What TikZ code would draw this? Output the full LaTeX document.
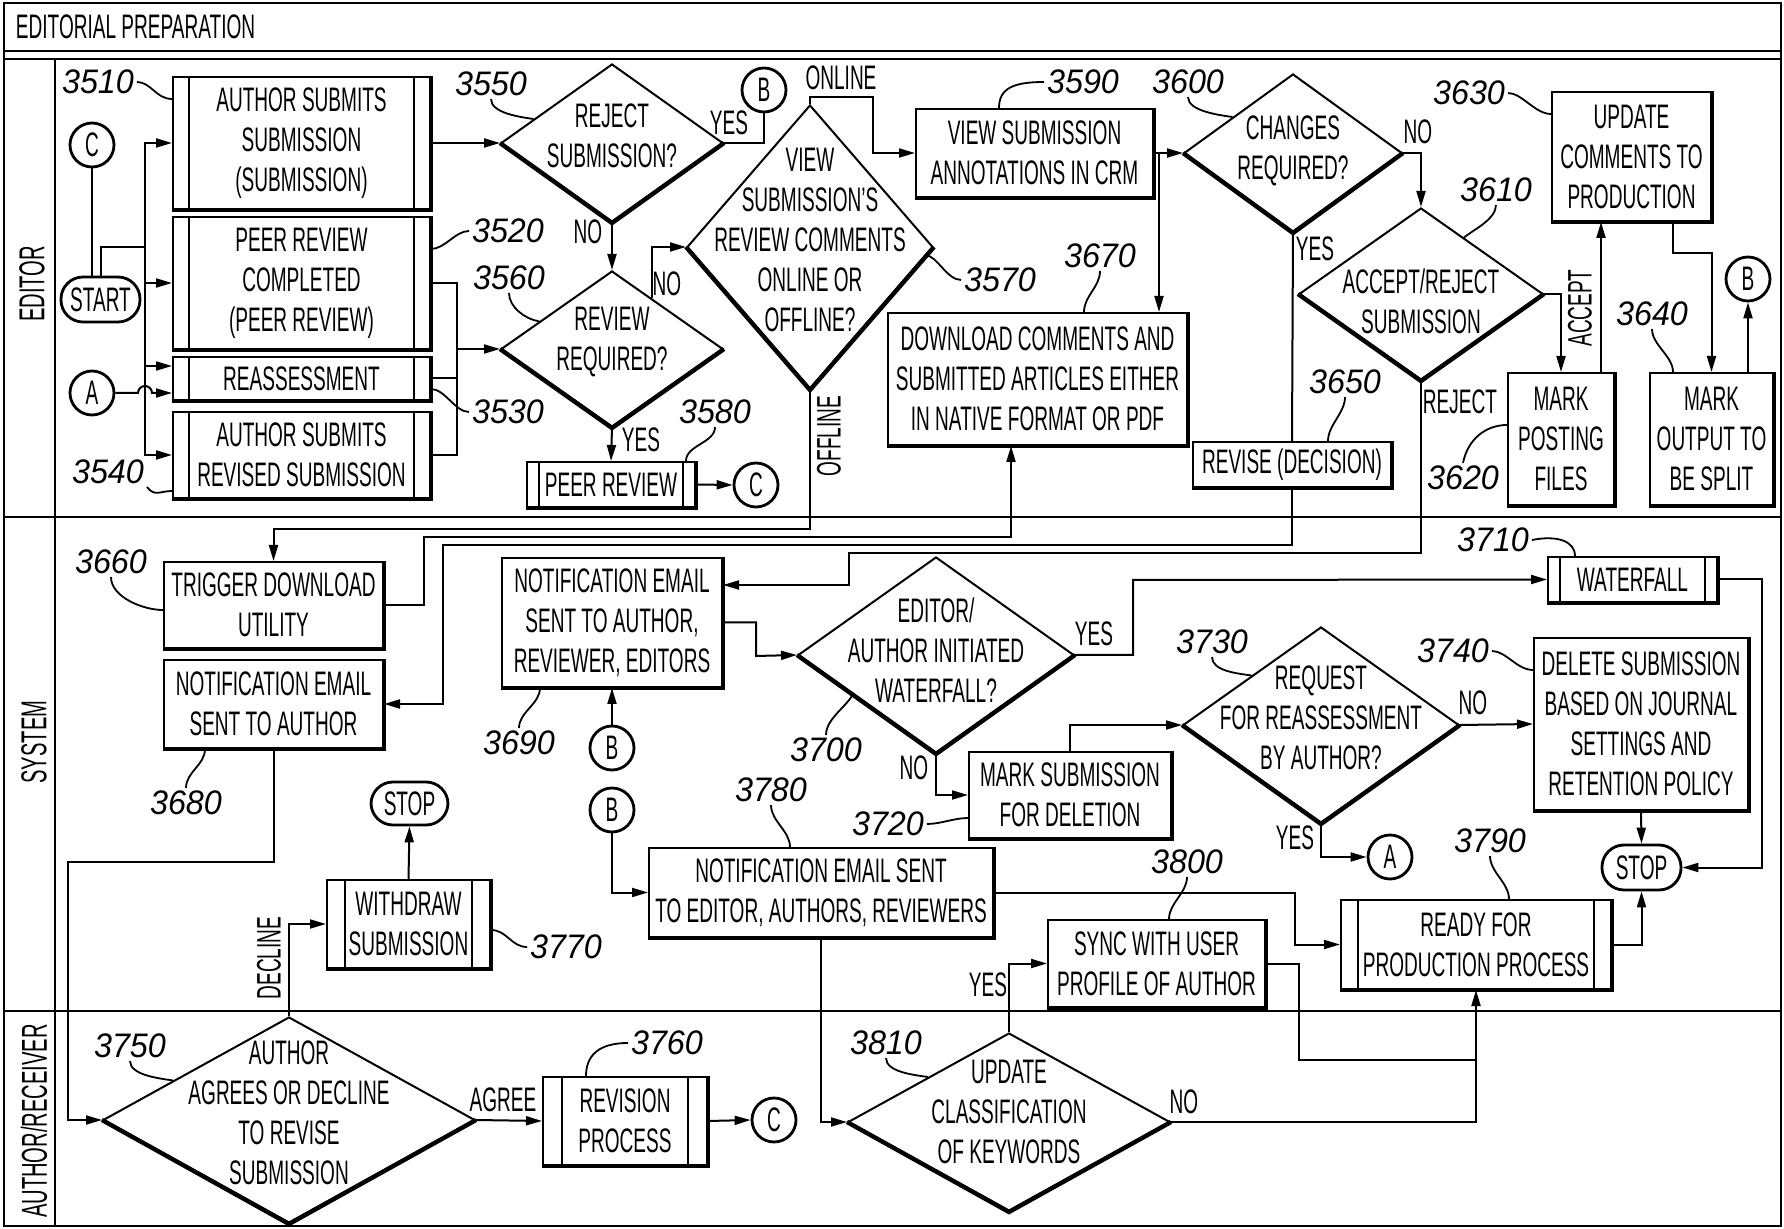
\documentclass[tikz,border=0pt]{standalone}
\usepackage{fontspec}
\setmainfont{Liberation Sans}[FakeStretch=0.56]
\newfontfamily\numfont{Liberation Sans}[FakeStretch=0.95]
\usetikzlibrary{arrows.meta,shapes.geometric,calc}
\newcommand\bxf{\fontsize{17}{20}\selectfont}
\newcommand\lnf{\fontsize{18}{20}\selectfont}
\newcommand\nmf{\numfont\itshape\fontsize{17}{20}\selectfont}
\begin{document}
\begin{tikzpicture}[x=0.5pt,y=-0.5pt,line width=1pt,
  >={Triangle[length=8pt,width=4.5pt]},
  box/.style={draw,rectangle,inner sep=0pt,align=center,font=\bxf},
  dia/.style={draw,diamond,inner sep=0pt},
  dtxt/.style={align=center,font=\bxf,inner sep=0pt,yshift=3.5pt},
  term/.style={draw,rectangle,rounded corners=11pt,inner sep=0pt,font=\bxf,line width=1.4pt},
  conn/.style={draw,circle,inner sep=0pt,minimum size=22pt,font=\bxf,line width=1.4pt},
  num/.style={font=\nmf,inner sep=1pt},
  lbl/.style={font=\bxf,inner sep=0pt},
  lane/.style={font=\lnf,inner sep=0pt,rotate=90},
  lead/.style={line width=0.9pt},
  shd/.style={line width=2.2pt}]
\useasboundingbox (0,0) rectangle (1784,1229);
% frame
\draw (4,3) rectangle (1781,1226);
\draw (4,51) -- (1781,51);
\draw (4,59) -- (1781,59);
\draw (4,517) -- (1781,517);
\draw (4,1011) -- (1781,1011);
\draw (55,59) -- (55,1226);
\node[font=\bxf,anchor=west,inner sep=0pt] (title) at (15,27) {EDITORIAL PREPARATION};
\node[lane] (lnE) at (32,284) {EDITOR};
\node[lane] (lnS) at (34,742) {SYSTEM};
\node[lane] (lnA) at (34,1121) {AUTHOR/RECEIVER};

% boxes
\node[box,minimum width=128.5pt,minimum height=66pt] (b3510) at (301.5,143) {AUTHOR SUBMITS\\SUBMISSION\\(SUBMISSION)};
\node[box,minimum width=128.5pt,minimum height=66pt] (b3520) at (301.5,283) {PEER REVIEW\\COMPLETED\\(PEER REVIEW)};
\node[box,minimum width=128.5pt,minimum height=21.5pt] (b3530) at (301.5,378.5) {REASSESSMENT};
\node[box,minimum width=128.5pt,minimum height=43pt] (b3540) at (301.5,455) {AUTHOR SUBMITS\\REVISED SUBMISSION};
\node[box,minimum width=84pt,minimum height=22.5pt] (b3580) at (611,484.5) {PEER REVIEW};
\node[box,minimum width=118.5pt,minimum height=44pt] (b3590) at (1034.5,153) {VIEW SUBMISSION\\ANNOTATIONS IN CRM};
\node[box,minimum width=149.5pt,minimum height=66pt] (b3670) at (1037.5,379) {DOWNLOAD COMMENTS AND\\SUBMITTED ARTICLES EITHER\\IN NATIVE FORMAT OR PDF};
\node[box,minimum width=79.5pt,minimum height=64.5pt] (b3630) at (1631.5,156.5) {UPDATE\\COMMENTS TO\\PRODUCTION};
\node[box,minimum width=53pt,minimum height=66pt] (b3620) at (1561,439) {MARK\\POSTING\\FILES};
\node[box,minimum width=61.5pt,minimum height=66pt] (b3640) at (1711.5,439) {MARK\\OUTPUT TO\\BE SPLIT};
\node[box,minimum width=99pt,minimum height=22.5pt] (b3650) at (1292,464.5) {REVISE (DECISION)};
\node[box,minimum width=109.5pt,minimum height=43pt] (b3660) at (273.5,605) {TRIGGER DOWNLOAD\\UTILITY};
\node[box,minimum width=109.5pt,minimum height=44pt] (b3680) at (273.5,704) {NOTIFICATION EMAIL\\SENT TO AUTHOR};
\node[box,minimum width=110pt,minimum height=64.5pt] (b3690) at (612,622.5) {NOTIFICATION EMAIL\\SENT TO AUTHOR,\\REVIEWER, EDITORS};
\node[box,minimum width=84.5pt,minimum height=22.5pt] (b3710) at (1632.5,579.5) {WATERFALL};
\node[box,minimum width=101pt,minimum height=43pt] (b3720) at (1070,795) {MARK SUBMISSION\\FOR DELETION};
\node[box,minimum width=107pt,minimum height=86pt] (b3740) at (1641,724) {DELETE SUBMISSION\\BASED ON JOURNAL\\SETTINGS AND\\RETENTION POLICY};
\node[box,minimum width=81.5pt,minimum height=44pt] (b3770) at (408.5,924) {WITHDRAW\\SUBMISSION};
\node[box,minimum width=82pt,minimum height=44pt] (b3760) at (625,1121) {REVISION\\PROCESS};
\node[box,minimum width=172pt,minimum height=44.5pt] (b3780) at (821,892.5) {NOTIFICATION EMAIL SENT\\TO EDITOR, AUTHORS, REVIEWERS};
\node[box,minimum width=135pt,minimum height=44.5pt] (b3790) at (1476,944.5) {READY FOR\\PRODUCTION PROCESS};
\node[box,minimum width=108.5pt,minimum height=43.5pt] (b3800) at (1156.5,963.5) {SYNC WITH USER\\PROFILE OF AUTHOR};

% diamonds
\node[dia,minimum width=111pt,minimum height=79pt,label={[dtxt]center:{REJECT\\SUBMISSION?}}] (d3550) at (612,143) {};
\node[dia,minimum width=111pt,minimum height=78pt,label={[dtxt]center:{REVIEW\\REQUIRED?}}] (d3560) at (612,349) {};
\node[dia,minimum width=123pt,minimum height=142pt,label={[dtxt]center:{VIEW\\SUBMISSION'S\\REVIEW COMMENTS\\ONLINE OR\\OFFLINE?}}] (d3570) at (810,247) {};
\node[dia,minimum width=109pt,minimum height=79pt,label={[dtxt,yshift=-2.5pt]center:{CHANGES\\REQUIRED?}}] (d3600) at (1293,153) {};
\node[dia,minimum width=122pt,minimum height=86pt,label={[dtxt,yshift=-7pt]center:{ACCEPT/REJECT\\SUBMISSION}}] (d3610) at (1421,294) {};
\node[dia,minimum width=138pt,minimum height=98pt,label={[dtxt,yshift=-1pt]center:{EDITOR/\\AUTHOR INITIATED\\WATERFALL?}}] (d3700) at (936,655) {};
\node[dia,minimum width=138pt,minimum height=98pt,label={[dtxt]center:{REQUEST\\FOR REASSESSMENT\\BY AUTHOR?}}] (d3730) at (1321,725) {};
\node[dia,minimum width=186pt,minimum height=103pt,label={[dtxt]center:{AUTHOR\\AGREES OR DECLINE\\TO REVISE\\SUBMISSION}}] (d3750) at (289,1120) {};
\node[dia,minimum width=161pt,minimum height=89pt,label={[dtxt,yshift=1.5pt]center:{UPDATE\\CLASSIFICATION\\OF KEYWORDS}}] (d3810) at (1009,1122) {};

% terminals
\node[term,minimum width=39.5pt,minimum height=22.5pt] (tSTART) at (100.5,299.5) {START};
\node[term,minimum width=38.5pt,minimum height=21.5pt] (tSTOP1) at (409.5,803.5) {STOP};
\node[term,minimum width=39.5pt,minimum height=22.5pt] (tSTOP2) at (1641.5,867.5) {STOP};

% connectors
\node[conn] (cC1) at (92,145) {C};
\node[conn] (cA1) at (92,393) {A};
\node[conn] (cB1) at (764,90) {B};
\node[conn] (cC2) at (756,485) {C};
\node[conn] (cB2) at (1748,279) {B};
\node[conn] (cB3) at (612,748) {B};
\node[conn] (cB4) at (612,810) {B};
\node[conn] (cA2) at (1390,857) {A};
\node[conn] (cC3) at (774,1120) {C};

% shadows
\foreach \n in {b3510,b3520,b3530,b3540,b3580,b3590,b3670,b3630,b3620,b3640,b3650,b3660,b3680,b3690,b3710,b3720,b3740,b3770,b3760,b3780,b3790,b3800}
  \draw[shd] (\n.south west) -- (\n.south east) -- (\n.north east);
\foreach \n in {d3550,d3560,d3570,d3600,d3610,d3700,d3730,d3750,d3810}
  \draw[shd] (\n.west) -- (\n.south) -- (\n.east);
% predefined-process strips
\foreach \n/\s in {b3510/8.5pt,b3520/8.5pt,b3530/8.5pt,b3540/8.5pt,b3580/6.5pt,b3710/6.5pt,b3770/9.5pt,b3760/10pt,b3790/9pt}{
  \draw ([xshift=\s]\n.north west) -- ([xshift=\s]\n.south west);
  \draw ([xshift=-\s]\n.north east) -- ([xshift=-\s]\n.south east);
}

% edge labels
\node[lbl] (y3550) at (729,123) {YES};
\node[lbl] (n3550) at (588,232) {NO};
\node[lbl] (n3560) at (667,284) {NO};
\node[lbl] (y3560) at (641,440) {YES};
\node[lbl] (on3570) at (841,78) {ONLINE};
\node[lbl,rotate=90] (off3570) at (829,436) {OFFLINE};
\node[lbl] (n3600) at (1418,132) {NO};
\node[lbl] (y3600) at (1315,249) {YES};
\node[lbl,rotate=90] (a3610) at (1580,308) {ACCEPT};
\node[lbl] (r3610) at (1460,402) {REJECT};
\node[lbl] (y3700) at (1094,634) {YES};
\node[lbl] (n3700) at (914,768) {NO};
\node[lbl] (n3730) at (1473,703) {NO};
\node[lbl] (y3730) at (1295,838) {YES};
\node[lbl] (y3810) at (988,985) {YES};
\node[lbl] (n3810) at (1184,1102) {NO};
\node[lbl,rotate=90] (dec3750) at (269,958) {DECLINE};
\node[lbl] (ag3750) at (503,1100) {AGREE};

% reference numbers
\node[num] (l3510) at (98,82) {3510};
\node[num] (l3520) at (508,231) {3520};
\node[num] (l3530) at (508,412) {3530};
\node[num] (l3540) at (108,472) {3540};
\node[num] (l3550) at (491,84) {3550};
\node[num] (l3560) at (509,278) {3560};
\node[num] (l3570) at (1000,280) {3570};
\node[num] (l3580) at (715,412) {3580};
\node[num] (l3590) at (1083,82) {3590};
\node[num] (l3600) at (1188,82) {3600};
\node[num] (l3610) at (1496,190) {3610};
\node[num] (l3620) at (1463,478) {3620};
\node[num] (l3630) at (1469,93) {3630};
\node[num] (l3640) at (1652,314) {3640};
\node[num] (l3650) at (1345,382) {3650};
\node[num] (l3660) at (111,562) {3660};
\node[num] (l3670) at (1100,256) {3670};
\node[num] (l3680) at (186,803) {3680};
\node[num] (l3690) at (519,743) {3690};
\node[num] (l3700) at (826,750) {3700};
\node[num] (l3710) at (1493,540) {3710};
\node[num] (l3720) at (888,824) {3720};
\node[num] (l3730) at (1212,642) {3730};
\node[num] (l3740) at (1453,651) {3740};
\node[num] (l3750) at (130,1046) {3750};
\node[num] (l3760) at (667,1043) {3760};
\node[num] (l3770) at (566,947) {3770};
\node[num] (l3780) at (771,790) {3780};
\node[num] (l3790) at (1490,841) {3790};
\node[num] (l3800) at (1187,862) {3800};
\node[num] (l3810) at (886,1043) {3810};

% leaders
\draw[lead] (l3510.east) .. controls +(14,0) and +(-16,0) .. ([yshift=-11.5pt]b3510.north west);
\draw[lead] (l3520.west) .. controls +(-14,0) and +(14,0) .. ([yshift=-16.5pt]b3520.north east);
\draw[lead] (l3530.west) .. controls +(-14,0) and +(14,0) .. ([yshift=6pt]b3530.south east);
\draw[lead] (l3540.south east) .. controls +(8,10) and +(-12,0) .. ([yshift=4pt]b3540.south west);
\draw[lead] (l3550.south) .. controls +(0,14) and +(-14,-2) .. ($(d3550.west)!0.3!(d3550.north)$);
\draw[lead] (l3560.south) .. controls +(0,14) and +(-14,-2) .. ($(d3560.west)!0.35!(d3560.north)$);
\draw[lead] (l3570.west) .. controls +(-14,0) and +(10,0) .. ($(d3570.east)!0.06!(d3570.south)$);
\draw[lead] (l3580.south) .. controls +(0,16) and +(0,-16) .. ([xshift=-5pt]b3580.north east);
\draw[lead] (l3590.west) .. controls +(-30,0) and +(0,-20) .. ([xshift=-17.75pt]b3590.north);
\draw[lead] (l3600.south) .. controls +(0,14) and +(-14,-2) .. ($(d3600.west)!0.45!(d3600.north)$);
\draw[lead] (l3610.south) .. controls +(0,14) and +(10,-8) .. ($(d3610.north)!0.35!(d3610.east)$);
\draw[lead] (l3620.north) .. controls +(5,-25) and +(-20,0) .. ([yshift=7pt]b3620.west);
\draw[lead] (l3630.east) .. controls +(14,0) and +(-16,0) .. ([yshift=-11.5pt]b3630.north west);
\draw[lead] (l3640.south) .. controls +(0,16) and +(0,-16) .. ([xshift=-19.25pt]b3640.north);
\draw[lead] (l3650.south) .. controls +(0,16) and +(0,-16) .. ([xshift=18pt]b3650.north);
\draw[lead] (l3660.south) .. controls +(0,20) and +(-20,0) .. ([yshift=-2.5pt]b3660.west);
\draw[lead] (l3670.south) .. controls +(0,16) and +(0,-16) .. ([xshift=23.25pt]b3670.north);
\draw[lead] (l3680.north) .. controls +(0,-16) and +(0,16) .. ([xshift=-34.25pt]b3680.south);
\draw[lead] (l3690.north) .. controls +(0,-16) and +(0,16) .. ([xshift=-36pt]b3690.south);
\draw[lead] (l3700.north) .. controls +(0,-16) and +(-6,12) .. ($(d3700.west)!0.4!(d3700.south)$);
\draw[lead] (l3710.east) .. controls +(25,-5) and +(0,-15) .. ([xshift=-28.75pt]b3710.north);
\draw[lead] (l3720.east) .. controls +(14,0) and +(-14,0) .. ([yshift=-11.5pt]b3720.west);
\draw[lead] (l3730.south) .. controls +(0,14) and +(-14,-2) .. ($(d3730.west)!0.5!(d3730.north)$);
\draw[lead] (l3740.east) .. controls +(14,0) and +(-16,0) .. ([yshift=27pt]b3740.west);
\draw[lead] (l3750.south) .. controls +(0,14) and +(-14,-2) .. ($(d3750.west)!0.38!(d3750.north)$);
\draw[lead] (l3760.west) .. controls +(-30,0) and +(0,-20) .. ([xshift=-19.5pt]b3760.north);
\draw[lead] (l3770.west) .. controls +(-16,0) and +(16,0) .. ([yshift=-3pt]b3770.east);
\draw[lead] (l3780.south) .. controls +(0,16) and +(0,-16) .. ([xshift=-15.5pt]b3780.north);
\draw[lead] (l3790.south) .. controls +(0,16) and +(0,-16) .. ([xshift=16.5pt]b3790.north);
\draw[lead] (l3800.south) .. controls +(0,16) and +(0,-16) .. ([xshift=6.25pt]b3800.north);
\draw[lead] (l3810.south) .. controls +(0,14) and +(-14,-2) .. ($(d3810.west)!0.5!(d3810.north)$);

% connectors (edges)
\draw (cC1) -- (cC1 |- tSTART.north);
\draw (tSTART.north) |- (145,247);
\draw[->] (145,247) |- (b3510.west);
\draw[->] (145,247) |- (b3540.west);
\draw[->] (145,283) -- (b3520.west);
\draw[->] (145,366) -- ([yshift=6.25pt]b3530.west);
\draw[->] (cA1.east) -- (138,393) arc[start angle=180,end angle=0,radius=3.5pt] -- ([yshift=-7.25pt]b3530.west);
\draw[->] (b3510.east) -- (d3550.west);
\draw (b3520.east) -| (457,455) -- (b3540.east);
\draw (b3530.east) -- (b3530.east -| 457,0);
\draw[->] (d3560.west -| 457,0) -- (d3560.west);
\draw (d3550.east) -| (cB1.south);
\draw[->] (d3550.south) -- (d3560.north);
\draw[->] ($(d3560.north)!0.355!(d3560.east)$) |- (d3570.west);
\draw[->] (d3560.south) -- (b3580.north);
\draw[->] (b3580.east) -- (cC2.west);
\draw[->] (d3570.north) |- (873,97) |- (b3590.west);
\draw[->] (d3570.south) |- (b3660.north |- 0,529) -- (b3660.north);
\draw[->] (b3590.east) -- (d3600.west);
\draw[->] ([xshift=2.5pt]b3590.east) -- ([xshift=2.5pt]b3590.east |- b3670.north);
\draw[->] (d3600.east) -| (d3610.north);
\draw (d3600.south) -- (b3650.north);
\draw[->] (b3650.south) |- (443,545) |- (b3680.east);
\draw[->] (d3610.south) |- (849,553) |- ([yshift=18.75pt]b3690.east);
\draw[->] (d3610.east) -| (b3620.north);
\draw[->] ([xshift=20pt]b3620.north) -- ([xshift=20pt]b3620.north |- b3630.south);
\draw[->] ([xshift=20.75pt]b3630.south) -- ++(0,31) -| (b3640.north);
\draw[->] (cB2.south |- b3640.north) -- (cB2.south);
\draw[->] (b3660.east) -| (424,537) -| ([xshift=-13.25pt]b3670.south);
\draw[->] (b3680.south) |- (68,862) |- (d3750.west);
\draw[->] (b3690.east) -| (756,656) -- (d3700.west);
\draw[->] (cB3.north) -- (b3690.south);
\draw[->] (d3700.east) -| (1133,580) -- (b3710.west);
\draw[->] (d3700.south) |- (b3720.west);
\draw[->] (b3720.north) |- (d3730.west);
\draw[->] (d3730.east) -- (b3740.west);
\draw[->] (d3730.south) |- (cA2.west);
\draw[->] (b3710.east) -| (1762,867.5) -- (tSTOP2.east);
\draw[->] (b3740.south) -- (tSTOP2.north);
\draw[->] (b3790.east) -| (tSTOP2.south);
\draw[->] (cB4.south) |- (b3780.west);
\draw[->] (b3780.east) -| (1295,944.5) -- (b3790.west);
\draw[->] (b3780.south) |- (d3810.west);
\draw[->] (d3810.north) |- (b3800.west);
\draw (b3800.east) -| (1299,1060) -- (1476,1060);
\draw[->] (d3810.east) -| (b3790.south);
\draw[->] (d3750.north) |- (b3770.west);
\draw[->] (b3770.north) -- (tSTOP1.south);
\draw[->] (d3750.east) -- (b3760.west);
\draw[->] (b3760.east) -- (cC3.west);
\end{tikzpicture}
\end{document}
